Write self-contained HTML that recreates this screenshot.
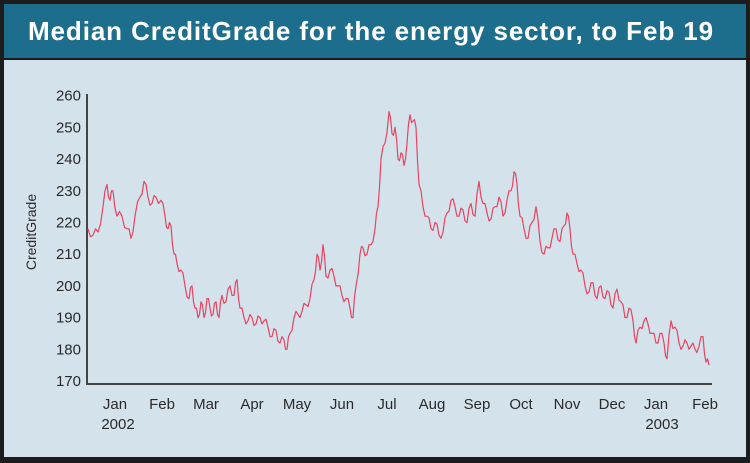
<!DOCTYPE html>
<html><head><meta charset="utf-8"><style>
body{margin:0;background:#2a2a2a;}
#w{position:relative;width:750px;height:463px;background:#1c1c1c;overflow:hidden;font-family:"Liberation Sans",sans-serif;}
#t{position:absolute;left:4px;top:4px;width:742px;height:54px;background:#1d6d8d;color:#fff;font-weight:bold;font-size:26px;letter-spacing:0.9px;line-height:54px;padding-left:24px;box-sizing:border-box;white-space:nowrap;}
#p{position:absolute;left:4px;top:60px;width:742px;height:397px;background:#d4e2ec;}
</style></head><body><div id="w">
<div id="t">Median CreditGrade for the energy sector, to Feb 19</div>
<div id="p"></div>
<svg width="750" height="463" style="position:absolute;left:0;top:0" font-family="Liberation Sans, sans-serif" font-size="15" fill="#2a2a2a">
<line x1="87" y1="94" x2="87" y2="385" stroke="#444" stroke-width="2"/>
<line x1="86" y1="384" x2="712" y2="384" stroke="#444" stroke-width="2"/>
<g text-anchor="end" id="yl"></g>
<text transform="translate(36,232) rotate(-90)" text-anchor="middle" font-size="14">CreditGrade</text>
<g text-anchor="middle" font-size="15">
<text x="115" y="409">Jan</text><text x="118" y="429">2002</text>
<text x="162" y="409">Feb</text><text x="206" y="409">Mar</text><text x="252" y="409">Apr</text>
<text x="297" y="409">May</text><text x="342" y="409">Jun</text><text x="387" y="409">Jul</text>
<text x="432" y="409">Aug</text><text x="477" y="409">Sep</text><text x="521" y="409">Oct</text>
<text x="567" y="409">Nov</text><text x="612" y="409">Dec</text><text x="656" y="409">Jan</text>
<text x="662" y="429">2003</text><text x="705" y="409">Feb</text>
</g>
<polyline id="ln" fill="none" stroke="#e8435f" stroke-width="1.2" stroke-linejoin="round"/>
</svg>
<script>
var Y=function(v){return 381-(v-170)*3.17;};
var g=document.getElementById('yl'),s='';
for(var v=170;v<=260;v+=10)s+='<text x="81" y="'+(Y(v)+5)+'">'+v+'</text>';
g.innerHTML=s;
var d=[88,218,93,216,98,217,103,225,107,232,110,227,113,230,117,222,122,222,127,218,131,215,135,222,140,228,144,233,148,228,152,226,156,228,161,227,165,222,168,218,171,219,174,210,177,207,181,205,185,200,189,196,192,200,195,193,198,190,201,195,204,190,207,196,210,193,213,191,216,195,219,190,222,197,226,195,230,200,234,197,237,202,240,193,244,190,248,189,252,190,256,188,260,190,264,189,268,187,272,184,276,186,280,182,284,183,287,180,290,185,294,190,298,191,302,192,306,194,310,196,314,202,317,210,320,205,323,213,326,203,330,205,334,203,338,200,342,197,346,196,350,193,353,190,356,200,360,210,363,212,367,210,371,213,375,218,378,225,381,240,385,245,389,255,392,248,395,250,398,240,401,242,404,238,407,245,410,254,413,252,416,250,419,232,423,225,427,222,431,218,435,220,439,216,443,217,447,223,451,227,455,225,459,222,463,224,467,220,471,226,475,222,479,233,483,226,487,223,491,221,495,225,499,228,503,222,507,227,511,230,514,236,517,232,520,222,524,218,528,215,532,220,536,225,540,214,544,210,548,212,552,215,556,218,560,214,564,219,567,223,570,218,573,210,577,207,581,205,585,200,589,198,593,201,597,196,601,200,605,196,609,198,613,193,617,199,621,195,625,190,629,193,633,189,636,182,640,187,644,189,648,188,652,185,656,182,660,185,664,182,667,177,671,189,675,187,679,182,683,181,687,182,691,181,695,180,699,181,703,184,706,176,709,175];
var p=[];for(var i=0;i<d.length;i+=2){var x=d[i],v=d[i+1];if(i+2<d.length){var mx=(x+d[i+2])/2,mv=(v+d[i+3])/2;p.push(x+','+Y(v).toFixed(1));p.push(mx+','+Y(mv+((i/2)%2?1.5:-1.5)).toFixed(1));}else p.push(x+','+Y(v).toFixed(1));}
document.getElementById('ln').setAttribute('points',p.join(' '));
</script>
</div></body></html>
